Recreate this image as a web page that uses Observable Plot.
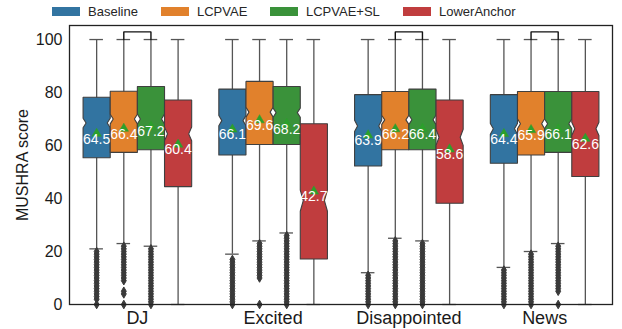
<!DOCTYPE html>
<html>
<head>
<meta charset="utf-8">
<script src="https://cdn.jsdelivr.net/npm/d3@7"></script>
<script src="https://cdn.jsdelivr.net/npm/@observablehq/plot@0.6"></script>
<style>
  body { margin: 0; background: #fff; font-family: "Liberation Sans", Arial, sans-serif; color: #1a1a1a; }
  #wrap { position: relative; width: 622px; height: 329px; }
  #legend { position: absolute; left: 0; top: 0; width: 622px; height: 24px; font-size: 13px; color: #262626; }
  .item { position: absolute; top: 4px; display: flex; align-items: center; }
  .sw { width: 28px; height: 9px; margin-right: 8px; }
</style>
</head>
<body>
<div id="wrap"><div id="legend"></div></div>
<script>
// ---- data ----
const groups = ["DJ", "Excited", "Disappointed", "News"];
const systems = ["Baseline", "LCPVAE", "LCPVAE+SL", "LowerAnchor"];
const colors = ["#3274a1", "#e1812c", "#3a923a", "#c03d3e"];
const yTicks = [0, 20, 40, 60, 80, 100];

// per group: [Baseline, LCPVAE, LCPVAE+SL, LowerAnchor]
const q1 = [
  [55.4, 57.4, 58.4, 44.5],
  [56.4, 60.4, 60.4, 17.2],
  [52.3, 58.4, 58.4, 38.2],
  [53.3, 56.4, 57.4, 48.3]
];
const median = [
  [68.5, 70.0, 70.0, 64.4],
  [69.4, 72.6, 72.4, 39.2],
  [67.4, 69.7, 69.7, 63.1],
  [66.3, 68.2, 68.2, 66.3]
];
const q3 = [
  [78.2, 80.5, 82.3, 77.2],
  [81.3, 84.2, 82.3, 68.2],
  [79.2, 80.4, 81.3, 77.2],
  [79.2, 80.4, 80.4, 80.4]
];
const whiskerLow = [
  [21, 23, 22, 0],
  [19, 24, 27, 0],
  [12, 25, 24, 0],
  [14, 20, 23, 0]
];
const whiskerHigh = [
  [100, 100, 100, 100],
  [100, 100, 100, 100],
  [100, 100, 100, 100],
  [100, 100, 100, 100]
];
const means = [
  [64.5, 66.4, 67.2, 60.4],
  [66.1, 69.6, 68.2, 42.7],
  [63.9, 66.2, 66.4, 58.6],
  [64.4, 65.9, 66.1, 62.6]
];
const outliers = [
  [
    [0, 2, 3, 4, 5, 6, 7, 8, 9, 10, 11, 12, 13, 14, 15, 16, 17, 18, 19, 20],
    [0, 4, 5, 9, 10, 11, 12, 13, 14, 15, 16, 17, 18, 19, 20, 21, 22],
    [0, 1, 2, 3, 4, 5, 6, 7, 8, 9, 10, 11, 12, 13, 14, 15, 16, 17, 18, 19, 20, 21],
    []
  ],
  [
    [0, 1, 2, 3, 4, 5, 6, 7, 8, 9, 10, 11, 12, 13, 14, 15, 16, 17],
    [0, 10, 11, 12, 13, 14, 15, 16, 17, 18, 19, 20, 21, 22, 23],
    [0, 1, 2, 3, 4, 5, 6, 7, 8, 9, 10, 11, 12, 13, 14, 15, 16, 17, 18, 19, 20, 21, 22, 23, 24, 25, 26],
    []
  ],
  [
    [0, 1, 2, 3, 4, 5, 6, 7, 8, 9, 10, 11],
    [0, 1, 2, 3, 4, 5, 6, 7, 8, 9, 10, 11, 12, 13, 14, 15, 16, 17, 18, 19, 20, 21, 22, 23, 24],
    [0, 1, 2, 3, 4, 5, 6, 7, 8, 9, 10, 11, 12, 13, 14, 15, 16, 17, 18, 19, 20, 21, 22, 23],
    []
  ],
  [
    [0, 1, 2, 3, 4, 5, 6, 7, 8, 9, 10, 11, 12, 13],
    [0, 1, 2, 3, 4, 5, 6, 7, 8, 9, 10, 11, 12, 13, 14, 15, 16, 17, 18, 19],
    [0, 5, 6, 7, 8, 9, 10, 11, 12, 13, 14, 15, 16, 17, 18, 19, 20, 21, 22],
    []
  ]
];
// significance brackets: group, between systems a and b, at height
const bracketGroups = ["DJ", "Disappointed", "News"];
const bracketFrom = ["LCPVAE", "LCPVAE", "LCPVAE"];
const bracketTo = ["LCPVAE+SL", "LCPVAE+SL", "LCPVAE+SL"];
const bracketTop = [102.9, 102.9, 102.9];

// ---- derived tables ----
const slot = 0.2, half = 0.1, inset = 0.022, nApprox = 400;
const posOf = (gi, si) => gi + (si - 1.5) * slot;
const boxes = [], polys = [], fliers = [];
groups.forEach((g, gi) => systems.forEach((s, si) => {
  const x = posOf(gi, si);
  const b = { group: g, system: s, x, q1: q1[gi][si], med: median[gi][si], q3: q3[gi][si],
    lo: whiskerLow[gi][si], hi: whiskerHigh[gi][si], mean: means[gi][si] };
  boxes.push(b);
  const ci = 1.57 * (b.q3 - b.q1) / Math.sqrt(nApprox);
  const L = x - half, R = x + half;
  const pts = [[L, b.q1], [R, b.q1], [R, b.med - ci], [R - inset, b.med], [R, b.med + ci], [R, b.q3],
    [L, b.q3], [L, b.med + ci], [L + inset, b.med], [L, b.med - ci], [L, b.q1]];
  pts.forEach(([px, py]) => polys.push({ key: g + "|" + s, system: s, x: px, y: py }));
  outliers[gi][si].forEach(v => fliers.push({ x, y: v }));
}));
const brackets = [];
bracketGroups.forEach((g, i) => {
  const gi = groups.indexOf(g);
  const xa = posOf(gi, systems.indexOf(bracketFrom[i]));
  const xb = posOf(gi, systems.indexOf(bracketTo[i]));
  [[xa, 100], [xa, bracketTop[i]], [xb, bracketTop[i]], [xb, 100]].forEach(([x, y]) => brackets.push({ key: g, x, y }));
});

const edge = "#3f3f3f";
const chart = Plot.plot({
  width: 622, height: 329,
  marginLeft: 69, marginRight: 10, marginTop: 25, marginBottom: 25,
  style: { fontFamily: "'Liberation Sans', Arial, sans-serif", color: "#1a1a1a", background: "transparent" },
  x: { type: "linear", domain: [-0.5, 3.5] },
  y: { domain: [0, 105.3] },
  color: { domain: systems, range: colors },
  marks: [
    Plot.ruleX(boxes, { x: "x", y1: "lo", y2: "hi", stroke: "#555", strokeWidth: 1.3 }),
    Plot.ruleY(boxes, { y: "hi", x1: d => d.x - half / 2, x2: d => d.x + half / 2, stroke: "#555", strokeWidth: 1.3 }),
    Plot.ruleY(boxes, { y: "lo", x1: d => d.x - half / 2, x2: d => d.x + half / 2, stroke: "#555", strokeWidth: 1.3 }),
    Plot.line(polys, { x: "x", y: "y", z: "key", fill: "system", stroke: edge, strokeWidth: 1.1, strokeLinejoin: "miter", curve: "linear" }),
    Plot.dot(fliers, { x: "x", y: "y", symbol: "diamond", r: 2.6, fill: "#3a3a3a", stroke: "#3a3a3a", strokeWidth: 1 }),
    Plot.dot(boxes, { x: "x", y: "mean", symbol: "triangle", r: 3.5, fill: "#2ca02c", stroke: "#2ca02c", strokeWidth: 0.5 }),
    Plot.text(boxes, { x: "x", y: "mean", text: d => d.mean.toFixed(1), fill: "white", fontSize: 14, lineAnchor: "top", dy: 0 }),
    Plot.line(brackets, { x: "x", y: "y", z: "key", stroke: "#111", strokeWidth: 1.4, strokeLinejoin: "miter" }),
    Plot.axisY({ ticks: yTicks, tickSize: 0, tickPadding: 7, fontSize: 16, label: "MUSHRA score", labelAnchor: "center", labelArrow: "none", labelOffset: 53 }),
    Plot.axisX({ ticks: [0, 1, 2, 3], tickFormat: i => groups[i], tickSize: 0, tickPadding: 7, fontSize: 18, label: null }),
    Plot.frame({ stroke: "#222", strokeWidth: 1.3 })
  ]
});
document.getElementById("wrap").appendChild(chart);
chart.style.position = "absolute";
chart.style.left = "0";
chart.style.top = "0";

// legend
const legendX = [52, 161, 270, 403];
const leg = document.getElementById("legend");
systems.forEach((s, i) => {
  const it = document.createElement("div");
  it.className = "item";
  it.style.left = legendX[i] + "px";
  it.innerHTML = `<span class="sw" style="background:${colors[i]}"></span><span>${s}</span>`;
  leg.appendChild(it);
});
</script>
</body>
</html>
